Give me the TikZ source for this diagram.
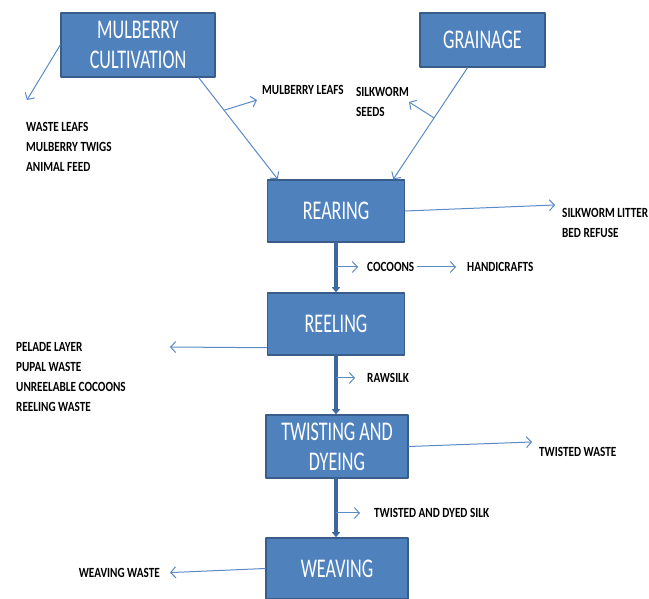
\documentclass[tikz,border=0pt]{standalone}
\usepackage{fontspec}
\setmainfont{Carlito}
\newfontfamily\boxfont[FakeStretch=0.67]{Carlito}
\newfontfamily\lblfont[FakeStretch=0.8]{Carlito}
\usetikzlibrary{arrows.meta,calc}
\definecolor{boxblue}{HTML}{4F81BD}
\definecolor{boxedge}{HTML}{385D8A}
\definecolor{flowblue}{HTML}{5B8AC6}
\definecolor{mainblue}{HTML}{3C679F}
\begin{document}
\begin{tikzpicture}[x=1pt, y=1pt, line join=round, line cap=round,
	box/.style={draw=boxedge, line width=1.5pt, fill=boxblue, text=white, align=center, inner sep=0pt, font=\boxfont\fontsize{27}{30}\selectfont},
	lbl/.style={anchor=west, align=left, inner sep=1pt, font=\lblfont\bfseries\fontsize{14}{20}\selectfont},
	flow/.style={draw=flowblue, line width=1pt, -{Straight Barb[length=5pt,width=11pt]}},
	mainflow/.style={draw=mainblue, line width=3.5pt, -{Triangle[length=5pt,width=8pt]}}]
	\useasboundingbox (0,0) rectangle (649,599);
	% process boxes
	\node[box, minimum width=154pt, minimum height=64pt] (mulberry) at (138,554) {MULBERRY\\CULTIVATION};
	\node[box, minimum width=125pt, minimum height=54pt] (grainage) at (482.5,559) {GRAINAGE};
	\node[box, minimum width=137pt, minimum height=62pt] (rearing) at (336,388) {REARING};
	\node[box, minimum width=137pt, minimum height=62pt] (reeling) at (336,275) {REELING};
	\node[box, minimum width=142pt, minimum height=63pt] (twisting) at (337,152.5) {TWISTING AND\\DYEING};
	\node[box, minimum width=142pt, minimum height=61pt] (weaving) at (337,30.5) {WEAVING};
	% products and wastes
	\node[lbl] (wasteleafs) at (25,452) {WASTE LEAFS\\MULBERRY TWIGS\\ANIMAL FEED};
	\node[lbl] (leafs) at (261,509) {MULBERRY LEAFS};
	\node[lbl] (seeds) at (355,497) {SILKWORM\\SEEDS};
	\node[lbl] (litter) at (561,376) {SILKWORM LITTER\\BED REFUSE};
	\node[lbl] (cocoons) at (366,332) {COCOONS};
	\node[lbl] (handicrafts) at (466,332) {HANDICRAFTS};
	\node[lbl] (pelade) at (15,221.5) {PELADE LAYER\\PUPAL WASTE\\UNREELABLE COCOONS\\REELING WASTE};
	\node[lbl] (rawsilk) at (366,221) {RAWSILK};
	\node[lbl] (twistwaste) at (538,147) {TWISTED WASTE};
	\node[lbl] (dyedsilk) at (373,86) {TWISTED AND DYED SILK};
	\node[lbl, anchor=east] (weavewaste) at (161,26) {WEAVING WASTE};
	\coordinate (wlend) at (27,499);
	\coordinate (mlend) at (257,499);
	\coordinate (ssend) at (409,497);
	\coordinate (litend) at (555,394);
	\coordinate (pelend) at (170,252);
	\coordinate (twend) at (532,157);
	% connectors
	\draw[flow] (mulberry.west) -- (wlend);
	\draw[flow] ($(mulberry.south east)+(-17,0)$) -- coordinate[pos=.32] (ml) ($(rearing.north west)+(11,0)$);
	\draw[flow] (ml) -- (mlend);
	\draw[flow] ($(grainage.south)+(-15,0)$) -- coordinate[pos=.45] (gs) ($(rearing.north east)+(-12,0)$);
	\draw[flow] (gs) -- (ssend);
	\draw[flow] (rearing.east) -- (litend);
	\draw[mainflow] (rearing.south) -- (reeling.north);
	\draw[flow, shorten >=8pt] (rearing.south |- cocoons.west) -- (cocoons.west);
	\draw[flow, shorten <=2pt, shorten >=10pt] (cocoons.east) -- (handicrafts.west);
	\draw[flow] ($(reeling.south west)+(0,8)$) -- (pelend);
	\draw[mainflow] (reeling.south) -- (reeling.south |- twisting.north);
	\draw[flow, shorten >=11pt] (reeling.south |- rawsilk.west) -- (rawsilk.west);
	\draw[flow] (twisting.east) -- (twend);
	\draw[mainflow] (reeling.south |- twisting.south) -- (reeling.south |- weaving.north);
	\draw[flow, shorten >=13pt] (reeling.south |- dyedsilk.west) -- (dyedsilk.west);
	\draw[flow, shorten >=9pt] (weaving.west) -- (weavewaste.east);
\end{tikzpicture}
\end{document}
